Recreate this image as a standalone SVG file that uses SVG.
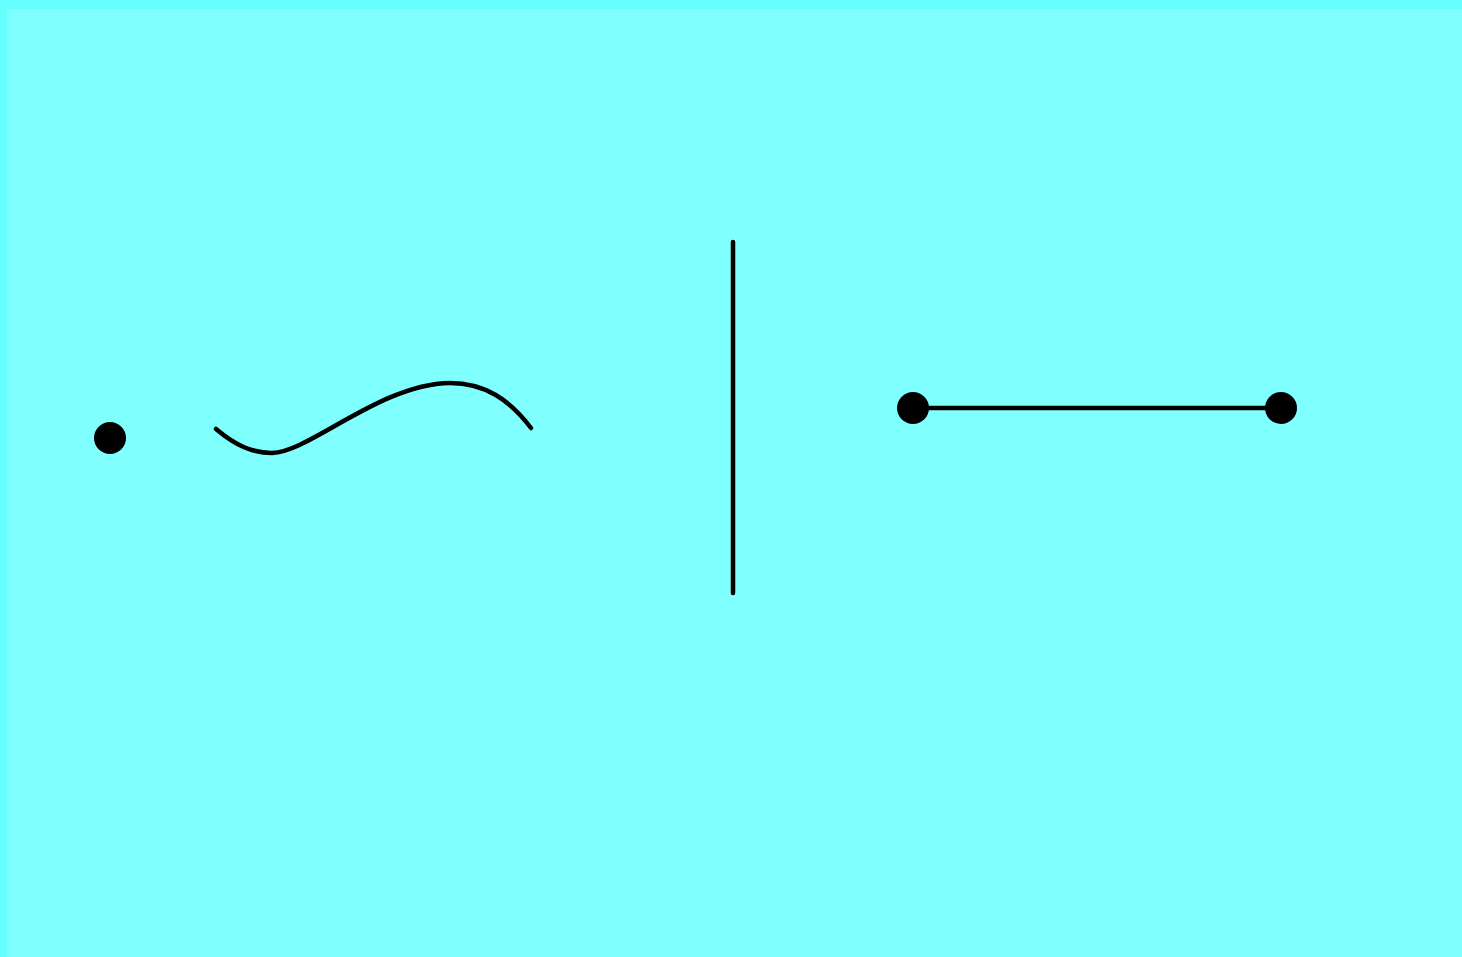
<svg xmlns="http://www.w3.org/2000/svg" width="1462" height="957" viewBox="0 0 1462 957">
<style>
.dot{fill:#000}
.ln{fill:none;stroke:#000;stroke-width:4.5;stroke-linecap:round}
</style>
<rect x="0" y="0" width="1462" height="957" fill="#66ffff"/>
<rect x="7" y="9" width="1455" height="948" fill="#80ffff"/>
<g id="point"><circle class="dot" cx="110" cy="438" r="16"/></g>
<g id="curve"><path class="ln" d="M216,429 C235,445 252,453 272,453 C310,452 380,384 450,383 C485,383 510,400 531,428"/></g>
<g id="vline"><line class="ln" x1="733" y1="242" x2="733" y2="593"/></g>
<g id="segment">
<circle class="dot" cx="913" cy="408" r="16"/>
<circle class="dot" cx="1281" cy="408" r="16"/>
</g>
<g id="connectors"><line class="ln" x1="913" y1="408" x2="1281" y2="408"/></g>
</svg>
